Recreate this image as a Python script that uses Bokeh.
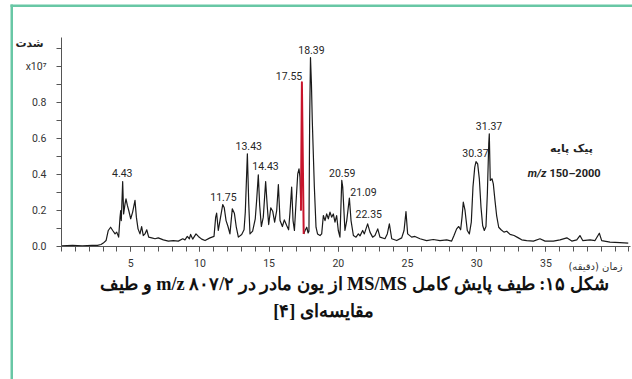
from bokeh.plotting import figure
from bokeh.models import FixedTicker, Label, BoxAnnotation, ColumnDataSource
from bokeh.embed import file_html
from bokeh.resources import INLINE
from bokeh.core.properties import value

# ---------------- data (time in minutes, intensity in 1e7 counts) ----------------
early_t = [0.0, 0.8, 1.5, 2.2, 2.6, 2.85,
           3.02, 3.22, 3.38, 3.55, 3.70, 3.87, 3.99, 4.13, 4.23, 4.28, 4.32, 4.42, 4.49, 4.59,
           4.66, 4.76, 4.86, 5.00, 5.14, 5.31, 5.41, 5.53, 5.67, 5.79, 5.91, 6.03, 6.16, 6.30,
           6.52, 6.76, 6.99, 7.36, 7.72, 8.08, 8.44, 8.76, 8.92, 9.09, 9.24, 9.33, 9.48, 9.72,
           9.89, 10.13, 10.37, 10.73, 11.02,
           11.14, 11.21, 11.33, 11.45, 11.65, 11.76, 11.89, 12.03, 12.17, 12.34, 12.49, 12.63,
           12.78, 13.02, 13.19, 13.28, 13.43, 13.53, 13.62, 13.81,
           14.00, 14.10, 14.22, 14.32, 14.44, 14.58, 14.75, 14.87, 14.97, 15.12, 15.26, 15.40,
           15.55, 15.67, 15.79, 15.96, 16.10, 16.27, 16.41, 16.51,
           16.63, 16.73, 16.83, 16.94, 17.07, 17.16, 17.23, 17.30]
early_v = [0.004, 0.006, 0.004, 0.007, 0.006, 0.011,
           0.019, 0.033, 0.089, 0.107, 0.089, 0.070, 0.080, 0.052, 0.163, 0.200, 0.144, 0.361, 0.181, 0.237,
           0.265, 0.228, 0.200, 0.154, 0.191, 0.256, 0.163, 0.098, 0.070, 0.111, 0.061, 0.070, 0.093, 0.052,
           0.048, 0.043, 0.048, 0.037, 0.030, 0.033, 0.030, 0.043, 0.037, 0.056, 0.043, 0.067, 0.041, 0.070,
           0.056, 0.041, 0.033, 0.048, 0.056,
           0.163, 0.185, 0.089, 0.144, 0.233, 0.215, 0.144, 0.111, 0.070, 0.209, 0.185, 0.107,
           0.052, 0.067, 0.093, 0.191, 0.515, 0.237, 0.070, 0.085,
           0.154, 0.256, 0.398, 0.228, 0.111, 0.163, 0.361, 0.219, 0.122, 0.215, 0.196, 0.135,
           0.200, 0.344, 0.144, 0.111, 0.148, 0.117, 0.093, 0.191,
           0.330, 0.144, 0.089, 0.237, 0.404, 0.431, 0.385, 0.200]

red_t = [17.30, 17.37, 17.50]
red_v = [0.200, 0.913, 0.070]

late_t = [17.50, 17.60, 17.72, 17.82, 17.88, 17.93, 17.99, 18.06, 18.12, 18.27,
          18.39, 18.50, 18.68, 18.80, 18.92, 19.04, 19.16, 19.28, 19.40, 19.52,
          19.64, 19.76, 19.88, 20.00, 20.12, 20.25, 20.32, 20.48, 20.61, 20.80,
          20.92, 21.09, 21.28, 21.45, 21.57, 21.76, 21.88, 22.12, 22.29, 22.48,
          22.65, 22.85, 23.01, 23.37, 23.54, 23.69, 23.86, 24.22, 24.58, 24.75,
          24.89, 25.01, 25.30, 25.54, 25.90, 26.38, 26.86, 27.35, 27.83, 28.19,
          28.36, 28.55, 28.70, 28.84, 28.94, 29.03, 29.15, 29.32, 29.47, 29.61,
          29.73, 29.86, 29.95, 30.07, 30.19, 30.31, 30.43, 30.55, 30.67, 30.77,
          30.87, 30.91, 30.98, 31.11, 31.20, 31.32, 31.44, 31.59, 31.76, 31.97,
          32.17, 32.41, 32.70, 33.01, 33.25, 33.61, 34.10, 34.57, 34.94, 35.54,
          36.02, 36.51, 36.87, 37.23, 37.46, 37.66, 38.19, 38.55, 38.86, 39.03,
          39.63, 40.35, 40.95]
late_v = [0.070, 0.089, 0.107, 0.075, 0.085, 0.700, 1.050, 0.900, 0.700, 0.330,
          0.107, 0.070, 0.061, 0.070, 0.172, 0.144, 0.181, 0.154, 0.191, 0.163,
          0.181, 0.135, 0.172, 0.089, 0.052, 0.367, 0.330, 0.089, 0.144, 0.269,
          0.144, 0.061, 0.052, 0.070, 0.059, 0.089, 0.070, 0.126, 0.080, 0.052,
          0.061, 0.098, 0.052, 0.043, 0.070, 0.126, 0.043, 0.033, 0.048, 0.089,
          0.194, 0.070, 0.052, 0.056, 0.043, 0.033, 0.039, 0.033, 0.037, 0.030,
          0.061, 0.098, 0.111, 0.093, 0.163, 0.246, 0.204, 0.089, 0.070, 0.135,
          0.330, 0.441, 0.472, 0.459, 0.376, 0.219, 0.117, 0.089, 0.111, 0.293,
          0.570, 0.626, 0.367, 0.376, 0.348, 0.256, 0.172, 0.107, 0.093, 0.080,
          0.085, 0.067, 0.061, 0.048, 0.037, 0.033, 0.030, 0.043, 0.030, 0.030,
          0.037, 0.048, 0.030, 0.037, 0.061, 0.033, 0.037, 0.033, 0.074, 0.033,
          0.024, 0.022, 0.019]

peak_labels = ["4.43", "11.75", "13.43", "14.43", "17.55", "18.39",
               "20.59", "21.09", "22.35", "30.37", "31.37"]
label_t = [4.39, 11.70, 13.53, 14.74, 16.44, 18.06, 20.28, 21.82, 22.20, 29.91, 30.89]
label_v = [0.406, 0.274, 0.561, 0.450, 0.950, 1.089, 0.406, 0.303, 0.178, 0.522, 0.672]

x_ticks = [5, 10, 15, 20, 25, 30, 35]
x_minor = list(range(0, 42))
y_ticks = [0.0, 0.2, 0.4, 0.6, 0.8, 1.0]
y_tick_labels = ["0.0", "0.2", "0.4", "0.6", "0.8", "x10\u2077"]
y_minor = [0.1, 0.3, 0.5, 0.7, 0.9, 1.1]

y_title = "\u202bشدت\u202c"
x_title = "\u202bزمان (دقیقه)\u202c"
base_peak = "\u202bپیک پایه\u202c"
mz_range = "150\u20132000"
caption_1 = "\u202bشکل ۱۵: طیف پایش کامل MS/MS از یون مادر در m/z ۸۰۷/۲ و طیف\u202c"
caption_2 = "\u202bمقایسه\u200cای [۴]\u202c"

# ---------------- geometry: the frame covers the whole canvas ----------------
W, H = 632, 379
KX = 13.84            # px per minute
KY = 180.0            # px per 1e7
ORIGIN_X, ORIGIN_Y = 61, 246   # canvas px of (0, 0)
X0 = -ORIGIN_X / KX
X1 = X0 + W / KX
Y1 = ORIGIN_Y / KY
Y0 = Y1 - H / KY
AXIS_X_END = 41.11
AXIS_Y_END = 1.1611


def tx(px):
    return X0 + px / KX


def vy(py):
    return Y1 - py / KY


NUM_FONT = "Roboto"
GREEN = "#68c7a5"

p = figure(width=W, height=H, x_range=(X0, X1), y_range=(Y0, Y1),
           output_backend="svg", toolbar_location=None,
           min_border=0, min_border_left=0, min_border_right=0,
           min_border_top=0, min_border_bottom=0)
p.outline_line_color = None
p.xgrid.visible = False
p.ygrid.visible = False
p.background_fill_color = "white"
p.border_fill_color = "white"

# axes (drawn at the data origin, limited by bounds)
for ax in (p.xaxis[0], p.yaxis[0]):
    ax.fixed_location = 0
    ax.axis_line_color = "#555555"
    ax.axis_line_width = 1
    ax.major_tick_line_color = "#555555"
    ax.minor_tick_line_color = "#555555"
    ax.major_tick_in = 0
    ax.minor_tick_in = 0
    ax.major_tick_out = 5
    ax.minor_tick_out = 5
    ax.major_label_text_font = NUM_FONT
    ax.major_label_text_font_size = "10.5px"
    ax.major_label_text_color = "#333333"

p.xaxis.bounds = (0, AXIS_X_END)
p.yaxis.bounds = (0, AXIS_Y_END)
p.xaxis.ticker = FixedTicker(ticks=x_ticks, minor_ticks=x_minor)
p.xaxis.major_label_standoff = 7
p.yaxis.ticker = FixedTicker(ticks=y_ticks, minor_ticks=y_minor)
p.yaxis.major_label_overrides = {t: s for t, s in zip(y_ticks, y_tick_labels)}
p.yaxis.major_label_standoff = 10

# traces
p.line(early_t, early_v, line_color="#1a1a1a", line_width=1.2, line_join="round")
p.line(late_t, late_v, line_color="#1a1a1a", line_width=1.2, line_join="round")
p.line(red_t, red_v, line_color="#c8152c", line_width=2, line_join="round")

src = ColumnDataSource(dict(x=label_t, y=label_v, text=peak_labels))
p.text(x="x", y="y", text="text", source=src, text_font=value(NUM_FONT),
       text_font_size="10.5px", text_color="#262626", text_align="center", text_baseline="middle")

# frame border (green)
p.add_layout(BoxAnnotation(left=tx(10), right=tx(12.5), top=vy(4), bottom=vy(380),
                           fill_color=GREEN, fill_alpha=1, line_color=None))
p.add_layout(BoxAnnotation(left=tx(10), right=tx(633), top=vy(4), bottom=vy(6.5),
                           fill_color=GREEN, fill_alpha=1, line_color=None))

# texts
p.add_layout(Label(x=tx(29), y=vy(43), text=y_title, text_font="DejaVu Sans",
                   text_font_size="11px", text_font_style="bold", text_color="#222222",
                   text_align="center", text_baseline="middle"))
p.add_layout(Label(x=tx(595), y=vy(266), text=x_title, text_font="DejaVu Sans",
                   text_font_size="10px", text_color="#333333",
                   text_align="center", text_baseline="middle"))
p.add_layout(Label(x=tx(571), y=vy(148), text=base_peak, text_font="DejaVu Sans",
                   text_font_size="11px", text_font_style="bold", text_color="#222222",
                   text_align="center", text_baseline="middle"))
p.add_layout(Label(x=tx(546), y=vy(173), text="m/z", text_font=NUM_FONT,
                   text_font_size="11px", text_font_style="bold italic", text_color="#222222",
                   text_align="right", text_baseline="middle"))
p.add_layout(Label(x=tx(549), y=vy(173), text=mz_range, text_font=NUM_FONT,
                   text_font_size="11px", text_font_style="bold", text_color="#222222",
                   text_align="left", text_baseline="middle"))
p.add_layout(Label(x=tx(354), y=vy(283), text=caption_1, text_font="Liberation Serif",
                   text_font_size="18.3px", text_font_style="bold", text_color="#111111",
                   text_align="center", text_baseline="middle"))
p.add_layout(Label(x=tx(323), y=vy(310), text=caption_2, text_font="Liberation Serif",
                   text_font_size="18.3px", text_font_style="bold", text_color="#111111",
                   text_align="center", text_baseline="middle"))

open("out.html", "w").write(file_html(p, INLINE))
